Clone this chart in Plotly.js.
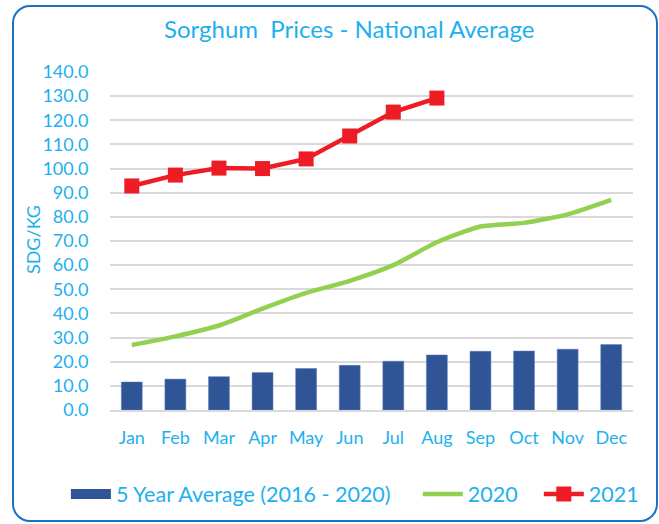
<!DOCTYPE html>
<html><head><meta charset="utf-8">
<script src="https://cdn.plot.ly/plotly-3.0.1.min.js"></script>
<style>
html,body{margin:0;padding:0;background:#fff;overflow:hidden;}
#frame{position:absolute;left:12px;top:5px;width:646px;height:517px;border:2.5px solid #1B72C2;border-radius:18px;box-sizing:border-box;}
#chart{position:absolute;left:0;top:0;width:659px;height:524px;}
</style></head>
<body>
<div id="frame"></div>
<div id="chart"></div>
<script>
const months = ["Jan","Feb","Mar","Apr","May","Jun","Jul","Aug","Sep","Oct","Nov","Dec"];
const avg5yr = [11.6,12.8,13.8,15.5,17.2,18.5,20.2,22.8,24.3,24.4,25.2,27.1];
const y2020 = [26.9,30.5,35.0,42.0,48.5,53.5,60.0,69.5,76.0,77.5,81.0,87.0];
const y2021 = [92.8,97.3,100.2,100.0,104.0,113.5,123.4,129.2];
const months2021 = months.slice(0, y2021.length);

const fontFam = 'Lato, "Open Sans", sans-serif';
const blue = '#1EB0EE';
const barBlue = '#2F5597';

const traces = [
  {type:'bar', x:months, y:avg5yr, name:'5 Year Average (2016 - 2020)',
   marker:{color:barBlue, line:{color:'#5B7DBA', width:0.5}}, width:0.48, showlegend:false},
  // legend-only entry so the legend swatch is a wide bar like the original
  {type:'scatter', mode:'lines', x:[months[0]], y:[null], name:'5 Year Average (2016 - 2020)',
   line:{color:barBlue, width:16}, showlegend:true, legend:'legend'},
  {type:'scatter', mode:'lines', x:months, y:y2020, name:'2020', legend:'legend2',
   line:{color:'#92D050', width:4.5, shape:'spline', smoothing:0.6}},
  {type:'scatter', mode:'lines+markers', x:months2021, y:y2021, name:'2021', legend:'legend2',
   line:{color:'#EE1C24', width:4.5}, marker:{symbol:'square', size:15, color:'#EE1C24'}}
];

const legendBase = {orientation:'h', xref:'container', xanchor:'left',
  y:0.057, yref:'container', yanchor:'middle',
  font:{size:21.5, color:blue, family:fontFam}, traceorder:'normal', itemwidth:40, bgcolor:'rgba(0,0,0,0)'};

const layout = {
  width:659, height:524,
  paper_bgcolor:'rgba(0,0,0,0)', plot_bgcolor:'rgba(0,0,0,0)',
  margin:{l:110, r:26, t:72, b:114, autoexpand:false},
  font:{family:fontFam, color:blue, size:18},
  title:{text:'Sorghum  Prices - National Average', font:{family:fontFam, size:24, color:blue},
         x:0.53, xref:'container', xanchor:'center', y:0.943, yref:'container', yanchor:'middle'},
  xaxis:{type:'category', categoryarray:months, categoryorder:'array', range:[-0.5, 11.5],
         automargin:false, tickfont:{size:18, color:blue}, showgrid:false,
         showline:true, linecolor:'#D9D9D9', linewidth:2,
         ticks:'outside', ticklen:10, tickcolor:'rgba(0,0,0,0)', zeroline:false},
  yaxis:{range:[0,140], dtick:10, tickformat:'.1f', tickfont:{size:18, color:blue}, automargin:false,
         gridcolor:'#D9D9D9', gridwidth:2, zeroline:false, showline:false,
         ticks:'outside', ticklen:17, tickcolor:'rgba(0,0,0,0)'},
  annotations:[{text:'SDG/KG', xref:'paper', yref:'paper', x:-0.147, y:0.503,
                textangle:-90, showarrow:false, xanchor:'center', yanchor:'middle',
                font:{size:18, color:blue, family:fontFam}}],
  legend:Object.assign({}, legendBase, {x:0.1}),
  legend2:Object.assign({}, legendBase, {x:0.634, entrywidth:66}),
  showlegend:true
};

Plotly.newPlot('chart', traces, layout, {displayModeBar:false, staticPlot:true});
</script>
</body></html>
